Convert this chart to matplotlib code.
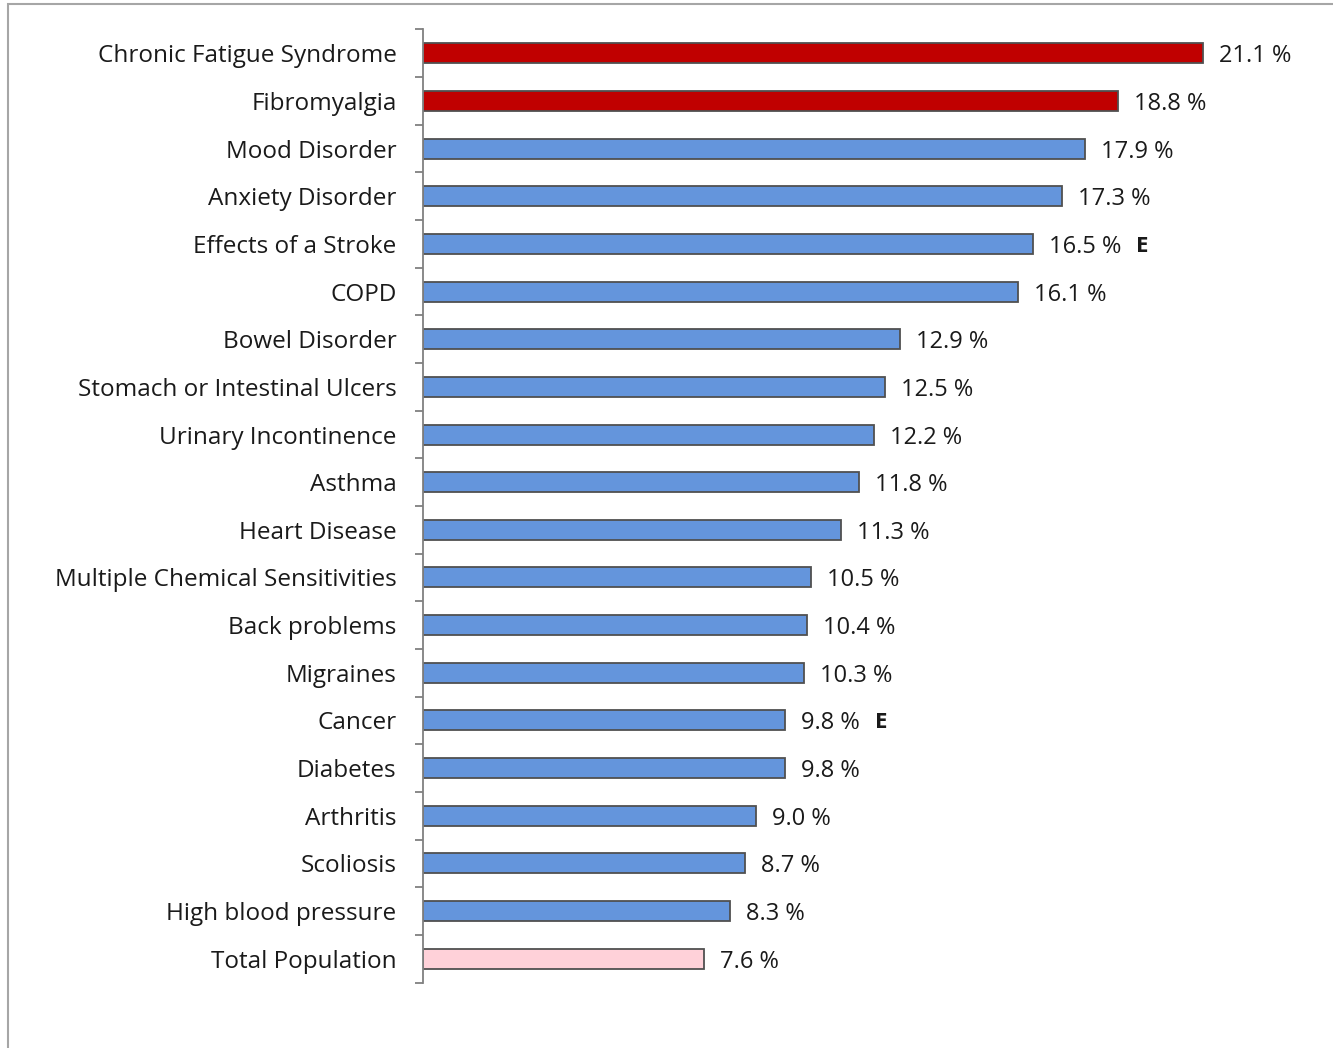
import matplotlib
matplotlib.use("Agg")
import matplotlib.pyplot as plt
from matplotlib.patches import Rectangle
import numpy as np

categories = [
    "Chronic Fatigue Syndrome", "Fibromyalgia", "Mood Disorder", "Anxiety Disorder",
    "Effects of a Stroke", "COPD", "Bowel Disorder", "Stomach or Intestinal Ulcers",
    "Urinary Incontinence", "Asthma", "Heart Disease", "Multiple Chemical Sensitivities",
    "Back problems", "Migraines", "Cancer", "Diabetes", "Arthritis", "Scoliosis",
    "High blood pressure", "Total Population",
]
values = [21.1, 18.8, 17.9, 17.3, 16.5, 16.1, 12.9, 12.5, 12.2, 11.8, 11.3,
          10.5, 10.4, 10.3, 9.8, 9.8, 9.0, 8.7, 8.3, 7.6]
flags = ["", "", "", "", "E", "", "", "", "", "", "", "", "", "", "E", "", "", "", "", ""]
groups = ["highlight", "highlight"] + ["condition"] * 17 + ["total"]

group_colors = {"highlight": "#C00000", "condition": "#6495DC", "total": "#FFD1D9"}

plt.rcParams["font.family"] = ["Open Sans", "DejaVu Sans"]

W, H = 1333, 1048
fig = plt.figure(figsize=(W / 100, H / 100), dpi=100)

# outer chart frame (top and left edges visible)
fig.patches.append(Rectangle((8 / W, -0.1), 1.2, 1 - 4 / H + 0.1, transform=fig.transFigure,
                             fill=False, edgecolor="#A6A6A6", linewidth=1.5))

left_px, right_px = 423, 1310
top_px, bottom_px = 29.5, 982.5
px_per_unit = 36.96
ax = fig.add_axes([left_px / W, 1 - bottom_px / H, (right_px - left_px) / W,
                   (bottom_px - top_px) / H])

y = np.arange(len(categories))
colors = [group_colors[g] for g in groups]
ax.barh(y, values, height=0.42, color=colors, edgecolor="#505050", linewidth=1.3)

ax.set_ylim(len(categories) - 0.5, -0.5)
ax.set_xlim(0, (right_px - left_px) / px_per_unit)

fig.canvas.draw()
for yi, v, f in zip(y, values, flags):
    t = ax.text(v + 16 / px_per_unit, yi, f"{v:.1f} %", va="center_baseline", ha="left",
                fontsize=17, color="#1a1a1a")
    if f:
        ax.annotate(f, xy=(1, yi), xycoords=(t, "data"), xytext=(11, 0),
                    textcoords="offset points", va="center_baseline", ha="left",
                    fontsize=16, fontweight="bold", color="#1a1a1a")

ax.set_yticks(y)
ax.set_yticklabels(categories, fontsize=17.5, color="#1a1a1a")
for lbl in ax.get_yticklabels():
    lbl.set_verticalalignment("center_baseline")
ax.tick_params(axis="y", which="major", length=0, pad=19)
ax.set_yticks(np.arange(-0.5, len(categories), 1.0), minor=True)
ax.tick_params(axis="y", which="minor", length=6, width=1.3, color="#808080")

ax.set_xticks([])
for s in ["top", "right", "bottom"]:
    ax.spines[s].set_visible(False)
ax.spines["left"].set_color("#808080")
ax.spines["left"].set_linewidth(1.3)

fig.savefig("out.png", dpi=100)
